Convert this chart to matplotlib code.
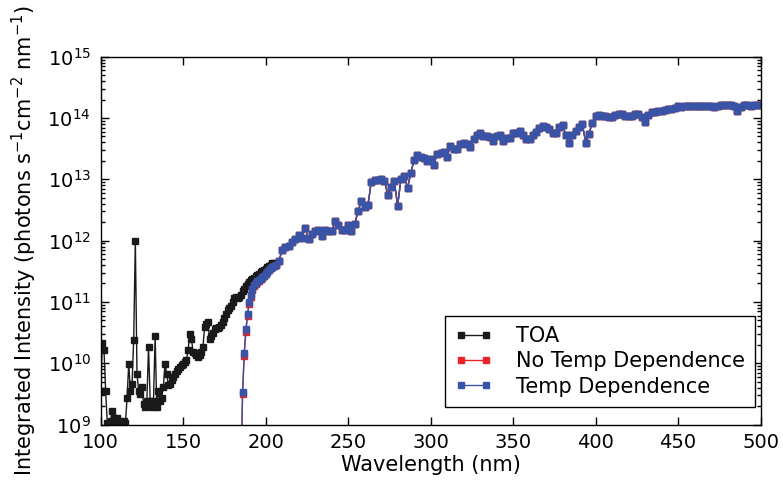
import matplotlib
matplotlib.use("Agg")
import matplotlib.pyplot as plt
import numpy as np

# log10 of intensity
toa_uv_wl = np.arange(100, 206)
toa_uv_log = [
    9.55, 10.33, 10.22, 9.55, 9.02, 9.03, 9.06, 9.22, 9.11, 9.06,
    9.11, 9.06, 9.03, 9.02, 9.06, 9.02, 9.44, 9.99, 9.55, 9.66,
    10.38, 12.0, 9.83, 9.55, 9.50, 9.61, 9.33, 9.28, 9.39, 10.27,
    9.39, 9.28, 9.39, 10.44, 9.28, 9.55, 9.39, 9.44, 9.61, 9.99,
    9.83, 9.64, 9.66, 9.72, 9.77, 9.83, 9.88, 9.91, 9.94, 9.97,
    9.99, 10.02, 10.05, 10.22, 10.48, 10.40, 10.19, 10.16, 10.14, 10.10,
    10.13, 10.19, 10.27, 10.59, 10.64, 10.68, 10.40, 10.44, 10.49, 10.55,
    10.57, 10.58, 10.59, 10.63, 10.68, 10.74, 10.81, 10.86, 10.90, 10.94,
    11.00, 11.06, 11.08, 11.07, 11.08, 11.12, 11.17, 11.21, 11.26, 11.30,
    11.33, 11.35, 11.37, 11.39, 11.42, 11.44, 11.46, 11.49, 11.51, 11.52,
    11.54, 11.57, 11.59, 11.61, 11.63, 11.64,
]

atm_uv_wl = np.arange(185, 206)
temp_uv_log = [
    8.0, 9.53, 10.16, 10.55, 10.80, 11.00, 11.11, 11.21, 11.28, 11.31,
    11.34, 11.36, 11.38, 11.40, 11.43, 11.46, 11.49, 11.52, 11.55, 11.57,
    11.59,
]
notemp_uv_log = [
    8.0, 9.49, 10.12, 10.51, 10.77, 10.97, 11.08, 11.19, 11.26, 11.29,
    11.32, 11.34, 11.37, 11.39, 11.42, 11.45, 11.49, 11.52, 11.55, 11.57,
    11.59,
]

vis_wl = np.arange(206, 501, 2)
vis_log = [
    11.61, 11.66, 11.85, 11.90, 11.91, 11.98, 12.03, 12.09, 12.05, 12.20,
    12.03, 12.10, 12.16, 12.17, 12.07, 12.18, 12.16, 12.15, 12.32, 12.26,
    12.18, 12.18, 12.26, 12.15, 12.27, 12.48, 12.65, 12.55, 12.58, 12.95,
    12.99, 12.99, 13.00, 12.98, 12.75, 12.88, 12.97, 12.57, 13.00, 13.06,
    12.86, 13.10, 13.32, 13.40, 13.37, 13.35, 13.30, 13.33, 13.24, 13.42,
    13.43, 13.45, 13.37, 13.54, 13.50, 13.49, 13.58, 13.60, 13.57, 13.53,
    13.65, 13.72, 13.75, 13.71, 13.70, 13.69, 13.62, 13.70, 13.72, 13.62,
    13.68, 13.68, 13.75, 13.76, 13.78, 13.73, 13.65, 13.66, 13.72, 13.77,
    13.84, 13.87, 13.85, 13.82, 13.76, 13.76, 13.86, 13.88, 13.72, 13.59,
    13.73, 13.78, 13.86, 13.90, 13.60, 13.74, 13.92, 14.03, 14.05, 14.04,
    14.03, 14.01, 14.01, 14.05, 14.07, 14.06, 14.03, 14.04, 14.04, 14.07,
    14.07, 14.01, 13.93, 14.05, 14.10, 14.09, 14.11, 14.12, 14.13, 14.15,
    14.15, 14.17, 14.19, 14.18, 14.20, 14.20, 14.20, 14.20, 14.19, 14.20,
    14.20, 14.19, 14.19, 14.18, 14.20, 14.21, 14.21, 14.21, 14.21, 14.20,
    14.12, 14.18, 14.21, 14.21, 14.20, 14.21, 14.21, 14.21,
]

TOA_COLOR = "#1a1a1a"
NOTEMP_COLOR = "#e8232a"
TEMP_COLOR = "#3953a6"


def main() -> None:
    assert len(toa_uv_log) == len(toa_uv_wl)
    assert len(temp_uv_log) == len(atm_uv_wl) == len(notemp_uv_log)
    assert len(vis_log) == len(vis_wl)

    vis = np.power(10.0, vis_log)
    toa_wl = np.concatenate([toa_uv_wl, vis_wl])
    toa = np.concatenate([np.power(10.0, toa_uv_log), vis])
    atm_wl = np.concatenate([atm_uv_wl, vis_wl])
    notemp = np.concatenate([np.power(10.0, notemp_uv_log), vis])
    temp = np.concatenate([np.power(10.0, temp_uv_log), vis])

    plt.rcParams["font.family"] = "DejaVu Sans"
    plt.rcParams["mathtext.fontset"] = "dejavusans"

    fig = plt.figure(figsize=(7.83, 4.83), dpi=100)
    ax = fig.add_axes([0.1286, 0.1211, 0.9713 - 0.1286, 0.8826 - 0.1211])

    style = dict(marker="s", markersize=4.0, linewidth=1.0)
    ax.plot(toa_wl, toa, color=TOA_COLOR, mec=TOA_COLOR, label="TOA", **style)
    ax.plot(atm_wl, notemp, color=NOTEMP_COLOR, mec=NOTEMP_COLOR,
            label="No Temp Dependence", **style)
    ax.plot(atm_wl, temp, color=TEMP_COLOR, mec=TEMP_COLOR,
            label="Temp Dependence", **style)

    ax.set_yscale("log")
    ax.set_xlim(100, 500)
    ax.set_ylim(1e9, 1e15)
    ax.set_xticks(np.arange(100, 501, 50))
    ax.tick_params(which="both", direction="in", top=True, right=True,
                   labelsize=14, width=1.0)
    ax.tick_params(which="major", length=5.5)
    ax.tick_params(which="minor", length=2.8)
    ax.tick_params(axis="x", which="major", pad=6)
    ax.tick_params(axis="y", which="major", pad=7)
    ax.tick_params(axis="x", which="minor", bottom=False, top=False)
    for spine in ax.spines.values():
        spine.set_linewidth(1.0)

    ax.set_xlabel("Wavelength (nm)", fontsize=15, labelpad=2)
    ax.set_ylabel(r"Integrated Intensity (photons s$^{-1}$cm$^{-2}$ nm$^{-1}$)",
                  fontsize=15, labelpad=6)

    leg = ax.legend(loc="lower right", bbox_to_anchor=(0.9917, 0.0476),
                    numpoints=2, fontsize=15, fancybox=False,
                    framealpha=1.0, edgecolor="k", borderaxespad=0.0,
                    borderpad=0.5, handlelength=1.8, handletextpad=1.1,
                    labelspacing=0.25)
    leg.get_frame().set_linewidth(1.0)

    fig.savefig("out.png", dpi=100)
    plt.close(fig)


if __name__ == "__main__":
    main()
